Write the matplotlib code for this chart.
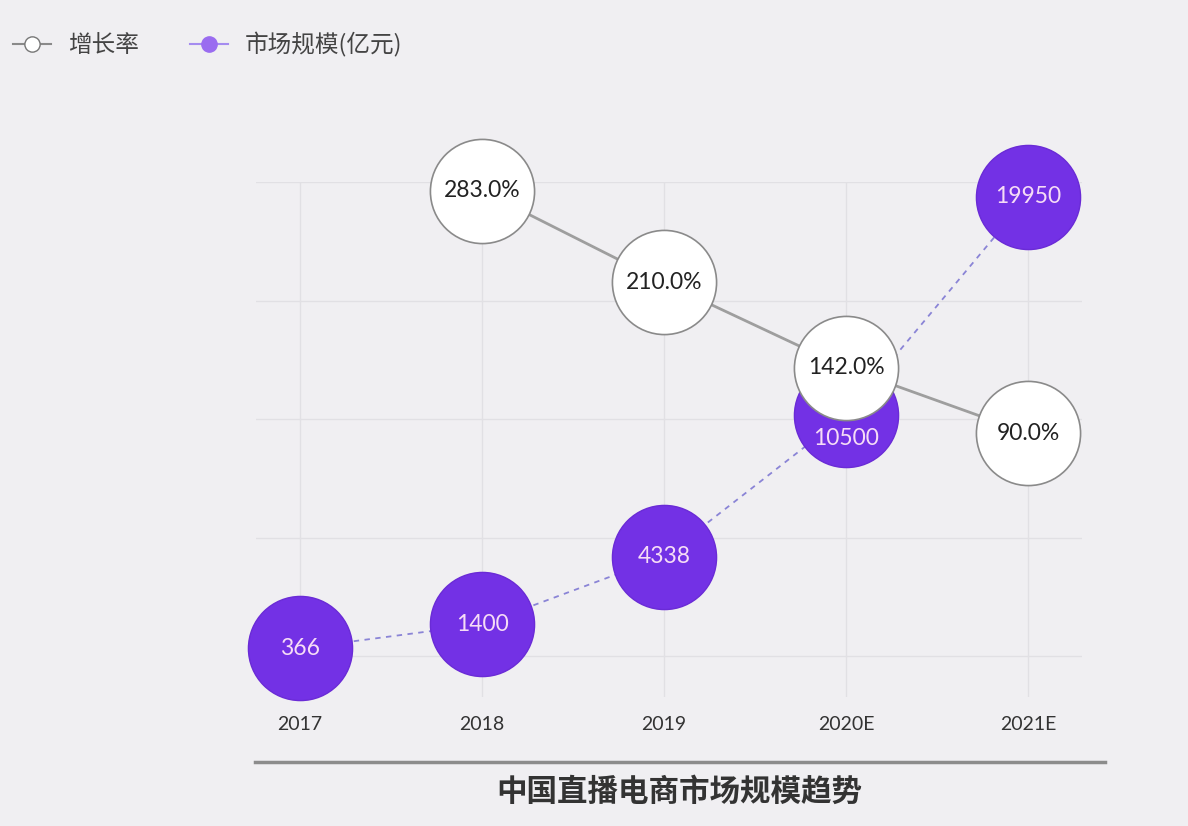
import matplotlib
matplotlib.use('Agg')
import matplotlib.pyplot as plt
from matplotlib.lines import Line2D
import numpy as np

# 数据
years = ['2017', '2018', '2019', '2020E', '2021E']
market_size = [366, 1400, 4338, 10500, 19950]      # 市场规模(亿元)
growth_years = ['2018', '2019', '2020E', '2021E']
growth_rate = [283.0, 210.0, 142.0, 90.0]          # 增长率 %

cjk = ['Noto Sans CJK SC', 'DejaVu Sans']
num_font = ['Lato', 'DejaVu Sans']
bg = '#f0eff2'
purple = '#7331e5'

fig = plt.figure(figsize=(11.88, 8.26), dpi=100, facecolor=bg)
W, H = 1188, 826
ax = fig.add_axes([256 / W, 1 - 697 / H, (1082 - 256) / W, (697 - 182) / H])
ax.set_facecolor(bg)
ax2 = ax.twinx()

x = np.arange(len(years))
xg = [years.index(y) for y in growth_years]

ax.set_xlim(-0.242, 4.297)
ylo, yhi = -1750, 20600
ax.set_ylim(ylo, yhi)
step = (yhi - ylo) * 118.5 / 515
ax.set_yticks([yhi - k * step for k in range(5)])
ax.set_xticks(x, years)
ax.grid(True, color='#e1e0e4', lw=1)
ax.set_axisbelow(True)
ax.tick_params(axis='y', left=False, right=False, labelleft=False, labelright=False)
ax.tick_params(axis='x', length=0, pad=14, labelsize=14, labelcolor='#333333')
for lbl in ax.get_xticklabels():
    lbl.set_family(num_font)
for s in ax.spines.values():
    s.set_visible(False)

# 市场规模
ax.plot(x, market_size, ls=(0, (3, 3)), color='#8a84d6', lw=1.3, zorder=1)
ax.plot(x, market_size, 'o', ms=75, mfc=purple, mec='#6a2bd6', mew=1, zorder=2, clip_on=False)
# 2020E 的标签被增长率圆圈挡住一部分, 往下挪一点
label_shift = {'2020E': -17}
for yr, xi, v in zip(years, x, market_size):
    ax.annotate(str(v), (xi, v), xytext=(0, label_shift.get(yr, 0)), textcoords='offset points',
                ha='center', va='center', color='#f6dcf6', fontsize=16.5,
                family=num_font, zorder=3, annotation_clip=False)

# 增长率
ax2.set_ylim(-120, 290)
ax2.tick_params(axis='y', left=False, right=False, labelleft=False, labelright=False)
for s in ax2.spines.values():
    s.set_visible(False)
ax2.plot(xg, growth_rate, color='#9e9e9e', lw=2, zorder=1)
ax2.plot(xg, growth_rate, 'o', ms=75, mfc='white', mec='#8a8a8a', mew=1.2, zorder=2, clip_on=False)
for xi, v in zip(xg, growth_rate):
    ax2.text(xi, v, f'{v:.1f}%', ha='center', va='center', color='#222222',
             fontsize=16.5, family=num_font, zorder=3, clip_on=False)

# 图例
handles = [
    Line2D([], [], color='#8a8a8a', lw=1.5, marker='o', ms=11, mfc='white', mec='#777777', label='增长率'),
    Line2D([], [], color='#a58cf0', lw=1.5, marker='o', ms=11, mfc='#9a6cf0', mec='#9a6cf0', label='市场规模(亿元)'),
]
fig.legend(handles=handles, loc='upper left', bbox_to_anchor=(-8 / W, 1 - 11 / H), ncol=2,
           frameon=False, prop={'family': cjk, 'size': 17}, labelcolor='#444444',
           handlelength=1.6, handletextpad=0.7, columnspacing=2.2)

# 底部横线与标题
fig.add_artist(Line2D([255 / W, 1105 / W], [1 - 762 / H] * 2, color='#8c8c8c', lw=2.5,
                      transform=fig.transFigure))
fig.text(679 / W, 1 - 792 / H, '中国直播电商市场规模趋势', ha='center', va='center',
         fontsize=22, weight='bold', color='#333333', family=cjk)

fig.savefig('out.png', dpi=100, facecolor=bg)
